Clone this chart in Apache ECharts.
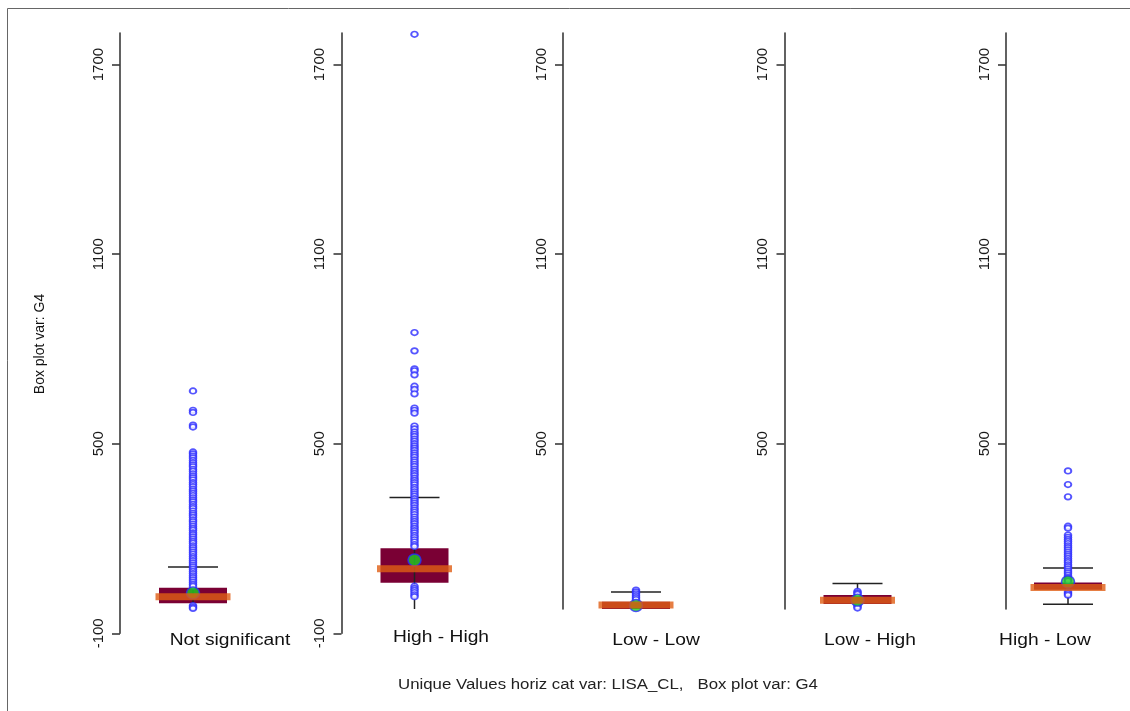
<!DOCTYPE html>
<html>
<head>
<meta charset="utf-8">
<title>Box plot var: G4</title>
<script src="https://cdn.jsdelivr.net/npm/echarts@6/dist/echarts.min.js"></script>
<style>
  html, body { margin: 0; padding: 0; background: #fff; }
  #chart { width: 1130px; height: 711px; }
</style>
</head>
<body>
<div id="chart"></div>
<script>
// values
const categories = ['Not significant', 'High - High', 'Low - Low', 'Low - High', 'High - Low'];
const lowerWhisker = [-40, -40, -40, -40, -8];
const q1 = [-5, 60, -30, -7, 38];
const median = [16, 104, -10, 5, 45];
const q3 = [44, 169, 0, 21, 61];
const upperWhisker = [110, 330, 31, 58, 107];
const mean = [28, 132, -12, 5, 63];
const outliers = [
  [667, 606, 599, 559, 553, 474, 468, 461, 455, 447, 440, 433, 427, 419, 413, 405, 398, 392, 385, 377,
   371, 364, 356, 350, 343, 336, 329, 322, 316, 308, 301, 295, 287, 280, 274, 267, 259, 253, 246, 239,
   232, 226, 218, 212, 205, 198, 191, 185, 177, 171, 164, 157, 150, 143, 137, 130, 123, 116, 110, 103,
   96, 89, 82, 76, 69, 62, 55, 49, -12, -17, -21],
  [1796, 852, 794, 737, 731, 718, 682, 672, 658, 613, 606, 597, 556, 547, 537, 530, 523, 515, 508, 500,
   493, 486, 479, 471, 464, 457, 449, 442, 435, 428, 420, 413, 406, 399, 391, 384, 377, 370, 362, 355,
   348, 341, 334, 326, 319, 312, 305, 297, 290, 283, 276, 268, 261, 254, 247, 239, 232, 225, 218, 210,
   203, 196, 189, 181, 175, 49, 42, 36, 29, 22, 16],
  [37, 31, 25, 19, 13, 7],
  [33, 28, 24, -10, -15, -20],
  [414, 371, 332, 239, 233, 211, 204, 197, 191, 184, 177, 171, 164, 157, 150, 144, 137, 130, 124, 117,
   111, 104, 97, 91, 84, 77, 71, 66, 31, 26, 21]
];
const tickValues = [-100, 500, 1100, 1700];
const plotMin = -23;
const axisMin = -100;
const axisMax = 1800;
const yAxisTitle = 'Box plot var: G4';
const xAxisTitle = 'Unique Values horiz cat var: LISA_CL,   Box plot var: G4';

// layout
const FONT = '"Liberation Sans", Arial, Helvetica, sans-serif';
const axisX = [120, 341.5, 563, 784.5, 1006];
const labelX = [230, 441, 656, 870, 1045];
const labelY = [641, 638, 641, 641, 641];
const plotTop = 33;
const plotHeight = 576;
const axisHeight = 600.3;
const panelWidth = 146;
const stretch = 1.2;

const axisStyle = { color: '#3a3a3a', width: 1.6 };

function valueAxis(gridIndex, min, show, ticks) {
  return {
    gridIndex, type: 'value', min, max: axisMax, show,
    splitLine: { show: false },
    axisLine: { show: true, lineStyle: axisStyle },
    axisTick: { show: true, length: 8, lineStyle: axisStyle, customValues: ticks },
    axisLabel: {
      rotate: 90, fontSize: 15, color: '#1a1a1a', fontFamily: FONT, margin: 14,
      customValues: ticks,
      formatter: v => String(v)
    }
  };
}

const grid = [];
const xAxis = [];
const yAxis = [];
const series = [];

categories.forEach((name, i) => {
  grid.push({ left: axisX[i], top: plotTop, width: panelWidth, height: plotHeight });
  xAxis.push({ gridIndex: i, type: 'category', data: [name], show: false, boundaryGap: true });
  // panels 1-2 get their axis from a taller grid below; 3-5 draw it here
  yAxis.push(valueAxis(i, plotMin, i >= 2, tickValues.filter(v => v >= plotMin)));

  const row = [[0, lowerWhisker[i], q1[i], median[i], q3[i], upperWhisker[i]]];
  const ax = { xAxisIndex: i, yAxisIndex: i };

  series.push({
    type: 'custom', ...ax, clip: true, silent: true,
    data: row,
    renderItem: (params, api) => {
      const lo = api.coord([0, api.value(2)]);
      const hi = api.coord([0, api.value(4)]);
      return {
        type: 'rect',
        shape: { x: lo[0] - 34, y: hi[1], width: 68, height: lo[1] - hi[1] },
        style: { fill: '#7a0034' }
      };
    }
  });

  series.push({
    type: 'scatter', ...ax, silent: true,
    data: outliers[i].map(v => [0, v]),
    symbol: 'circle', symbolSize: [6.6, 5.6],
    itemStyle: { color: '#fff', borderColor: '#2b2bff', borderWidth: 1.8 }
  });

  series.push({
    type: 'custom', ...ax, clip: true, silent: true,
    data: row,
    renderItem: (params, api) => {
      const lo = api.coord([0, api.value(1)]);
      const hi = api.coord([0, api.value(5)]);
      const st = { stroke: '#222', lineWidth: 1.5 };
      return {
        type: 'group',
        children: [
          { type: 'line', shape: { x1: lo[0], y1: lo[1], x2: hi[0], y2: hi[1] }, style: st },
          { type: 'line', shape: { x1: hi[0] - 25, y1: hi[1], x2: hi[0] + 25, y2: hi[1] }, style: st },
          { type: 'line', shape: { x1: lo[0] - 25, y1: lo[1], x2: lo[0] + 25, y2: lo[1] }, style: st }
        ]
      };
    }
  });

  series.push({
    type: 'scatter', ...ax, silent: true,
    data: [[0, mean[i]]],
    symbol: 'circle', symbolSize: [13, 12],
    itemStyle: { color: '#1fd01f', borderColor: '#2b2bff', borderWidth: 1.5 }
  });

  series.push({
    type: 'scatter', ...ax, silent: true,
    data: [[0, median[i]]],
    symbol: 'rect', symbolSize: [75, 7],
    itemStyle: { color: '#e05e14' }
  });
});

// taller axis-only grids for the first two panels, reaching down to -100
[0, 1].forEach(i => {
  const g = grid.length;
  grid.push({ left: axisX[i], top: plotTop, width: panelWidth, height: axisHeight });
  xAxis.push({ gridIndex: g, type: 'category', data: [''], show: false });
  yAxis.push(valueAxis(g, axisMin, true, tickValues));
});

const textStyle = (text, size) => ({
  text, fontSize: size, fontFamily: FONT, fill: '#111',
  textAlign: 'center', textVerticalAlign: 'middle'
});

const graphic = [
  {
    type: 'rect', silent: true,
    shape: { x: 7.5, y: 8.5, width: 1300, height: 900 },
    style: { fill: 'none', stroke: '#666', lineWidth: 1 }
  },
  {
    type: 'text', x: 40, y: 344, rotation: Math.PI / 2,
    style: textStyle(yAxisTitle, 14)
  },
  {
    type: 'text', x: 608, y: 685, scaleX: stretch,
    style: { ...textStyle(xAxisTitle, 14), fill: '#222' }
  },
  ...categories.map((name, i) => ({
    type: 'text', x: labelX[i], y: labelY[i], scaleX: stretch,
    style: textStyle(name, 16)
  }))
];

const chart = echarts.init(document.getElementById('chart'));
chart.setOption({
  animation: false,
  backgroundColor: '#fff',
  grid, xAxis, yAxis, series, graphic
});

window.addEventListener('resize', () => chart.resize());
</script>
</body>
</html>
